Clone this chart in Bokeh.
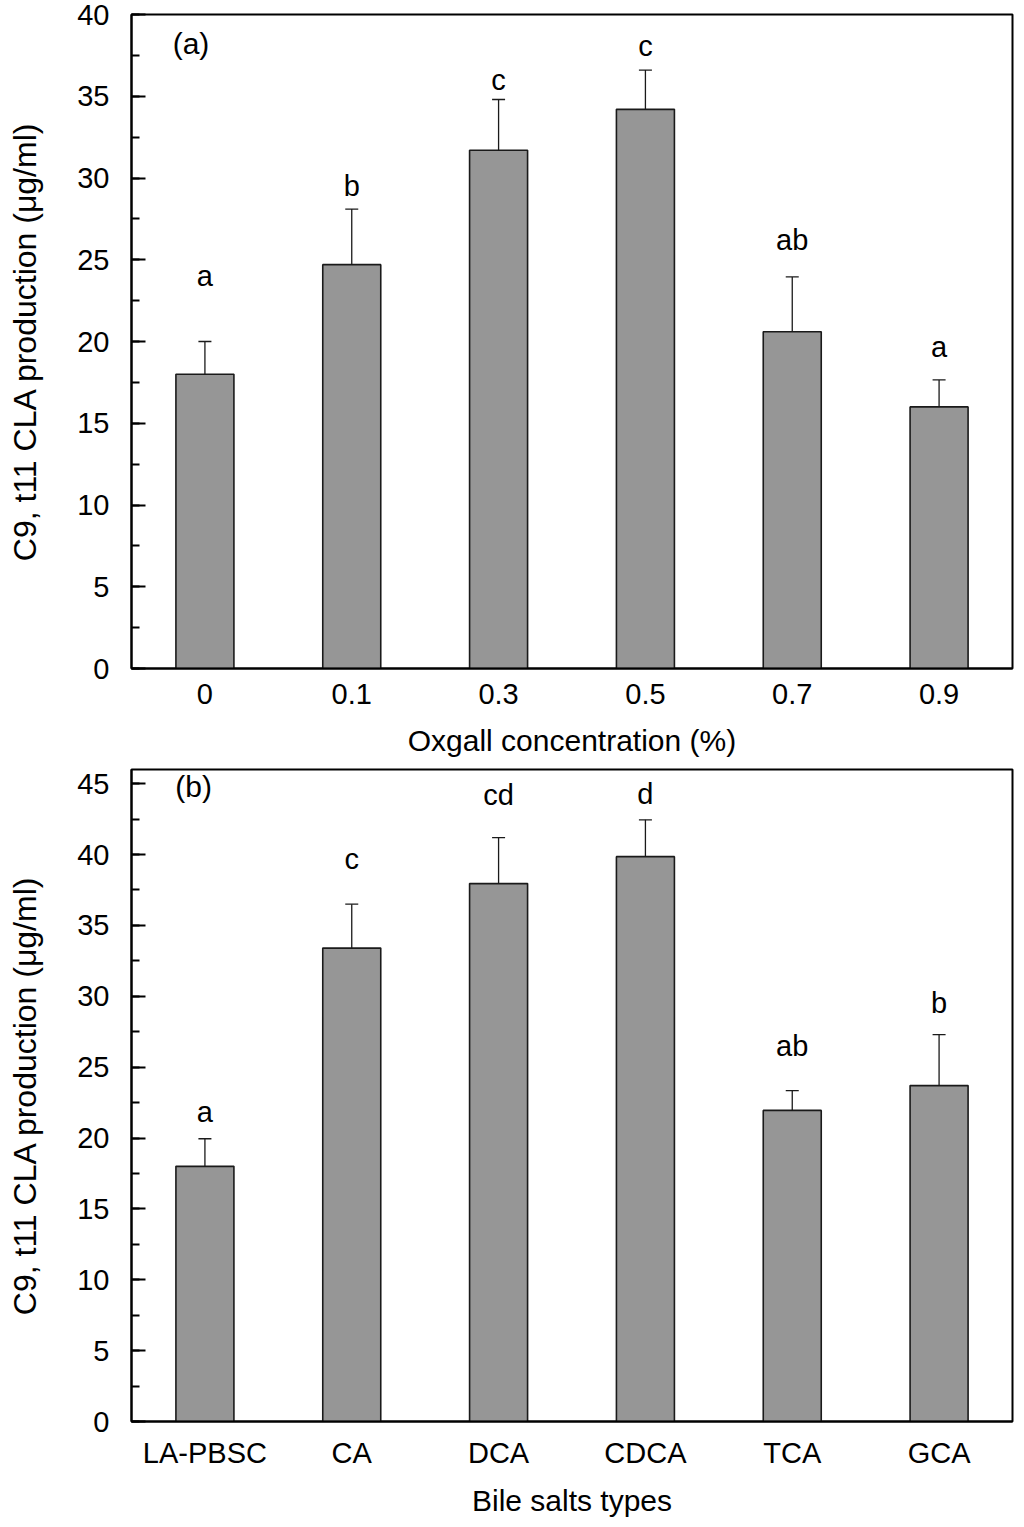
from bokeh.plotting import figure
from bokeh.layouts import column
from bokeh.models import FactorRange, Range1d, SingleIntervalTicker, Label, ColumnDataSource
from bokeh.core.properties import value
from bokeh.embed import file_html
from bokeh.resources import INLINE

# ---- Panel (a): Oxgall concentration ----
conc_labels = ["0", "0.1", "0.3", "0.5", "0.7", "0.9"]
conc_means = [18.0, 24.7, 31.7, 34.2, 20.6, 16.0]
conc_err = [2.0, 3.4, 3.1, 2.4, 3.35, 1.65]
conc_letters = ["a", "b", "c", "c", "ab", "a"]
conc_letter_y = [23.4, 28.9, 35.4, 37.45, 25.6, 19.05]

# ---- Panel (b): Bile salt types ----
bile_labels = ["LA-PBSC", "CA", "DCA", "CDCA", "TCA", "GCA"]
bile_means = [18.0, 33.4, 37.95, 39.85, 21.95, 23.7]
bile_err = [1.95, 3.1, 3.25, 2.6, 1.4, 3.6]
bile_letters = ["a", "c", "cd", "d", "ab", "b"]
bile_letter_y = [21.1, 38.95, 43.5, 43.6, 25.8, 28.8]

FONT = "Liberation Sans"
YLABEL = "C9, t11 CLA production (\u03bcg/ml)"


def make_panel(cats, means, errs, letters, letter_y, ymax, xlabel,
               tag, tag_x, tag_y, height, border_top, border_bottom, xlabel_standoff):
    p = figure(x_range=FactorRange(factors=cats, range_padding=0),
               y_range=Range1d(0, ymax),
               width=1016, height=height,
               output_backend="svg", toolbar_location=None,
               min_border_left=131, min_border_right=4,
               min_border_top=border_top, min_border_bottom=border_bottom)
    p.grid.visible = False
    p.outline_line_color = "black"
    p.outline_line_width = 2
    p.background_fill_color = "white"
    p.border_fill_color = "white"

    upper = [m + e for m, e in zip(means, errs)]
    src = ColumnDataSource(dict(x=cats, top=means, up=upper, ly=letter_y, txt=letters))

    p.vbar(x="x", top="top", width=0.395, bottom=0, source=src,
           fill_color="#969696", line_color="#1a1a1a", line_width=1.6)
    p.segment(x0="x", y0="top", x1="x", y1="up", source=src,
              line_color="#1a1a1a", line_width=1.3)
    p.scatter(x="x", y="up", marker="dash", size=13, source=src,
              line_color="#1a1a1a", line_width=1.3)
    p.text(x="x", y="ly", text="txt", source=src, text_align="center",
           text_baseline="alphabetic", text_font=value(FONT), y_offset=-10,
           text_font_size="29px", text_color="black")

    p.add_layout(Label(x=tag_x, y=tag_y, text=tag, text_align="center",
                       text_baseline="middle", text_font=FONT,
                       text_font_size="30px", text_color="black"))

    # y axis
    p.yaxis.ticker = SingleIntervalTicker(interval=5, num_minor_ticks=2)
    p.yaxis.major_tick_in = 14
    p.yaxis.major_tick_out = 0
    p.yaxis.minor_tick_in = 8
    p.yaxis.minor_tick_out = 0
    p.yaxis.major_tick_line_width = 2
    p.yaxis.minor_tick_line_width = 2
    p.yaxis.major_tick_line_color = "black"
    p.yaxis.minor_tick_line_color = "black"
    p.yaxis.major_label_standoff = 22
    p.yaxis.axis_label = YLABEL
    p.yaxis.axis_label_standoff = 31

    # x axis
    p.xaxis.major_tick_in = 0
    p.xaxis.major_tick_out = 0
    p.xaxis.major_label_standoff = 15
    p.xaxis.axis_label = xlabel
    p.xaxis.axis_label_standoff = xlabel_standoff

    for ax in (p.xaxis, p.yaxis):
        ax.axis_line_color = "black"
        ax.axis_line_width = 2
        ax.major_label_text_font = FONT
        ax.major_label_text_font_size = "29px"
        ax.major_label_text_color = "black"
        ax.axis_label_text_font = FONT
        ax.axis_label_text_font_size = "30px"
        ax.axis_label_text_font_style = "normal"
        ax.axis_label_text_color = "black"
    p.yaxis.axis_label_text_font_size = "32px"
    return p


pa = make_panel(conc_labels, conc_means, conc_err, conc_letters, conc_letter_y,
                40, "Oxgall concentration (%)", "(a)", 0.405, 38.2,
                height=762, border_top=14, border_bottom=94, xlabel_standoff=17)
pb = make_panel(bile_labels, bile_means, bile_err, bile_letters, bile_letter_y,
                46, "Bile salts types", "(b)", 0.423, 44.8,
                height=760, border_top=7, border_bottom=101, xlabel_standoff=12)

layout = column(pa, pb, spacing=0)
open("out.html", "w").write(file_html(layout, INLINE))
